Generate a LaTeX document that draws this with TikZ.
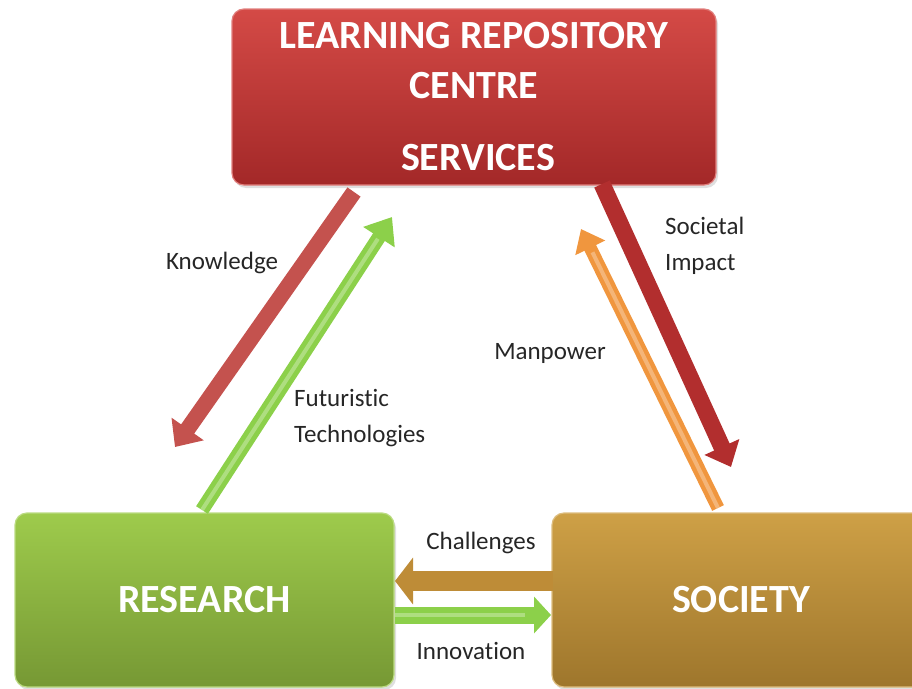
\documentclass[tikz,border=0pt]{standalone}
\usepackage{fontspec}
\setmainfont{Carlito}[Ligatures=CommonOff]
\usetikzlibrary{arrows.meta}
\usetikzlibrary{shadows}
\usetikzlibrary{positioning}
\definecolor{redtop}{RGB}{212,74,70}
\definecolor{redbot}{RGB}{163,40,40}
\definecolor{greentop}{RGB}{158,203,76}
\definecolor{greenbot}{RGB}{118,152,52}
\definecolor{goldtop}{RGB}{206,160,70}
\definecolor{goldbot}{RGB}{158,118,44}
\definecolor{arrred}{RGB}{196,82,78}
\definecolor{arrdred}{RGB}{178,46,46}
\definecolor{arrgreen}{RGB}{140,208,74}
\definecolor{arrorange}{RGB}{240,150,62}
\definecolor{arrgold}{RGB}{190,140,55}
\tikzset{
    mynode/.style = {rectangle, rounded corners=12pt, align=center, font=\bfseries\fontsize{40}{50}\selectfont, text=white, line width=1.2pt, drop shadow={shadow xshift=2pt, shadow yshift=-3pt, opacity=0.25}},
    mynoder/.style = {mynode, draw=redtop!70!white, top color=redtop, bottom color=redbot},
    mynodeg/.style = {mynode, draw=greentop!70!white, top color=greentop, bottom color=greenbot},
    mynodeo/.style = {mynode, draw=goldtop!70!white, top color=goldtop, bottom color=goldbot},
    lbl/.style = {inner sep=0pt, align=left, font=\fontsize{25}{36}\selectfont, text=black!85},
    edger/.style = {line width=16pt, arrred, -{Triangle[width=38pt, length=22pt]}},
    edgedr/.style = {line width=17pt, arrdred, -{Triangle[width=37pt, length=22pt]}},
    edgeg/.style = {line width=14pt, arrgreen, -{Triangle[width=36pt, length=24pt]}},
    edgeo/.style = {line width=13pt, arrorange, -{Triangle[width=32pt, length=21pt]}},
    edgeb/.style = {line width=20pt, arrgold, -{Triangle[width=46pt, length=18pt]}},
    edgegs/.style = {line width=17pt, arrgreen, -{Triangle[width=36pt, length=17pt]}},
    shine/.style = {line width=4pt, white, opacity=0.3, shorten >=26pt}
}

\begin{document}
\begin{tikzpicture}[x=1pt, y=-1pt]
\path[use as bounding box] (0,0) rectangle (912,688);
\node[mynoder, minimum width=484pt, minimum height=176pt] at (474,97) (lrc) {LEARNING REPOSITORY\\CENTRE\\[22pt]\hspace*{8pt}SERVICES};
\node[mynodeg, minimum width=379pt, minimum height=174pt] at (204.5,600) (res) {RESEARCH};
\node[mynodeo, minimum width=378pt, minimum height=174pt] at (741,600) (soc) {SOCIETY};
%
\coordinate (k1) at (354,192);
\coordinate (k2) at (175,447);
\coordinate (f1) at (202,510);
\coordinate (f2) at (392,217);
\coordinate (s1) at (602,184);
\coordinate (s2) at (731,467);
\coordinate (m1) at (718,508);
\coordinate (m2) at (581,229);
\coordinate (c1) at (553,581);
\coordinate (c2) at (395,581);
\coordinate (i1) at (395,615);
\coordinate (i2) at (551,615);
%
\draw[edger] (k1) -- (k2);
\draw[edgeg] (f1) -- (f2);
\draw[shine] (f1) -- (f2);
\draw[edgedr] (s1) -- (s2);
\draw[edgeo] (m1) -- (m2);
\draw[shine] (m1) -- (m2);
\draw[edgeb] (c1) -- (c2);
\draw[edgegs] (i1) -- (i2);
\draw[shine] (i1) -- (i2);
%
\node[lbl] at (222,263) (know) {Knowledge};
\node[lbl, anchor=west] at (294,418) (fut) {Futuristic\\Technologies};
\node[lbl, anchor=west] at (665,246) (simp) {Societal\\Impact};
\node[lbl] at (550,353) (man) {Manpower};
\node[lbl] at (481,543) (chal) {Challenges};
\node[lbl] at (471,651) (inno) {Innovation};
\end{tikzpicture}
\end{document}
